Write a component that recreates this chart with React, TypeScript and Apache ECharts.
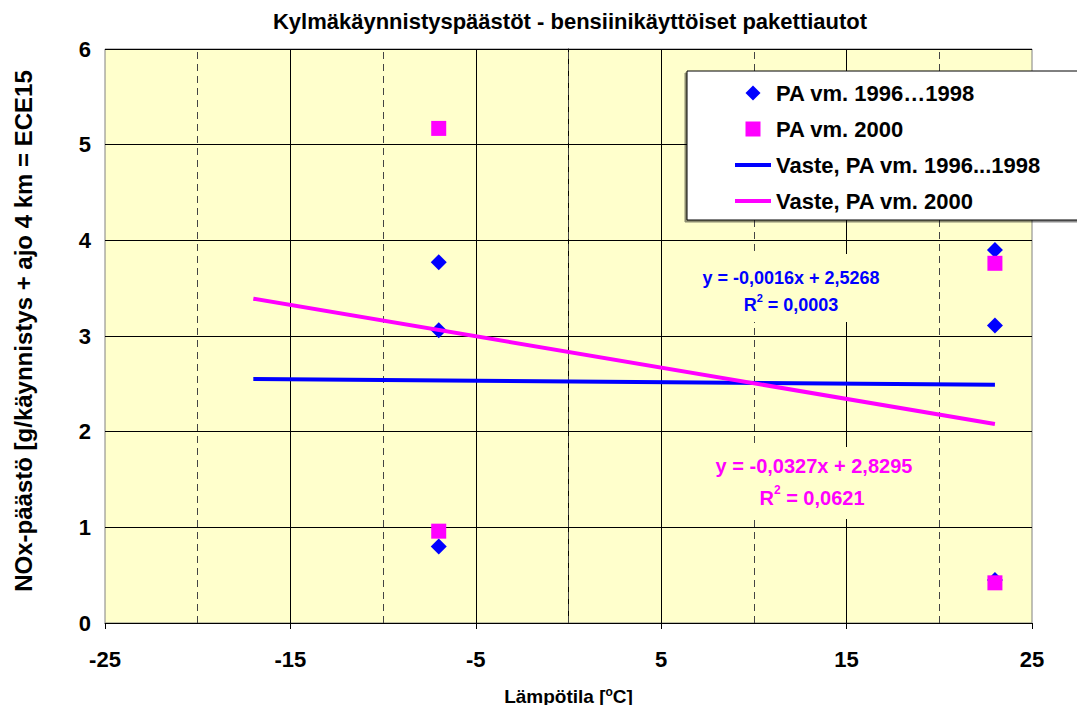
import React, { useEffect, useRef } from "react";
import * as echarts from "echarts";

const titleText = "Kylmäkäynnistyspäästöt - bensiinikäyttöiset pakettiautot";
const xTickValues = [-25, -15, -5, 5, 15, 25];
const solidGridX = [-15, -5, 5, 15];
const dashedGridX = [-20, -10, 0, 10, 20];

const seriesNames = [
  "PA vm. 1996…1998",
  "PA vm. 2000",
  "Vaste, PA vm. 1996...1998",
  "Vaste, PA vm. 2000",
];

const temps9698 = [-7, -7, -7, 23, 23, 23];
const nox9698 = [3.77, 3.06, 0.8, 3.9, 3.11, 0.45];
const temps2000 = [-7, -7, 23, 23];
const nox2000 = [5.17, 0.96, 3.76, 0.42];
const trendTemps = [-17, 23];
const trend9698 = [2.55, 2.49];
const trend2000 = [3.39, 2.08];

const BLUE = "#0000FF";
const MAGENTA = "#FF00FF";
const BG = "#FFFFCC";
const FONT = "'Liberation Sans', Arial, sans-serif";

const DIAMOND = "path://M0,-1L1,0L0,1L-1,0Z";
const SQUARE = "path://M0,0H1V1H0Z";
const LINE_ICON = "path://M0,0H36V4H0Z";

const pairs = (xs: number[], ys: number[]) => xs.map((x, i) => [x, ys[i]]);

export default function App() {
  const ref = useRef<HTMLDivElement>(null);
  useEffect(() => {
    if (!ref.current) return;
    const chart = echarts.init(ref.current, null, { renderer: "svg" });
    const eqText = (
      x: number,
      y: number,
      main: string,
      color: string,
      size: number
    ) => ({
      type: "text",
      x,
      y,
      z: 20,
      style: {
        text: main,
        fill: color,
        font: `bold ${size}px ${FONT}`,
        align: "center",
        verticalAlign: "middle",
      },
    });
    const rText = (x: number, y: number, val: string, color: string, size: number) => ({
      type: "text",
      x,
      y,
      z: 20,
      style: {
        text: `{a|R}{s|2}{a| = ${val}}`,
        align: "center",
        verticalAlign: "middle",
        rich: {
          a: {
            fill: color,
            color,
            fontSize: size,
            fontWeight: "bold",
            fontFamily: FONT,
            lineHeight: size + 4,
            verticalAlign: "bottom",
          },
          s: {
            fill: color,
            color,
            fontSize: Math.round(size * 0.6),
            fontWeight: "bold",
            fontFamily: FONT,
            lineHeight: size + 4,
            verticalAlign: "top",
          },
        },
      },
    });
    chart.setOption({
      animation: false,
      backgroundColor: "#FFFFFF",
      title: {
        text: titleText,
        left: 565,
        top: 5,
        textAlign: "center",
        textStyle: { fontFamily: FONT, fontSize: 22, fontWeight: "bold", color: "#000" },
      },
      grid: {
        left: 105,
        right: 53,
        top: 49,
        bottom: 90,
        show: true,
        backgroundColor: BG,
        borderColor: "#808080",
        borderWidth: 1,
        containLabel: false,
      },
      legend: {
        left: 687,
        top: 71,
        orient: "vertical",
        backgroundColor: "#FFFFFF",
        borderColor: "#000",
        borderWidth: 1,
        shadowColor: "rgba(0,0,0,0.45)",
        shadowBlur: 0,
        shadowOffsetX: -2,
        shadowOffsetY: 2,
        padding: [11, 70, 8, 48],
        itemWidth: 36,
        itemHeight: 15,
        itemGap: 14,
        data: [
          { name: seriesNames[0] },
          { name: seriesNames[1] },
          { name: seriesNames[2], icon: LINE_ICON },
          { name: seriesNames[3], icon: LINE_ICON },
        ],
        textStyle: {
          fontFamily: FONT,
          fontSize: 22,
          fontWeight: "bold",
          color: "#000",
          lineHeight: 22,
        },
        selectedMode: false,
      },
      xAxis: {
        type: "value",
        min: -25,
        max: 25,
        interval: 5,
        name: "Lämpötila [{s|o}C]",
        nameLocation: "middle",
        nameGap: 63,
        nameTextStyle: {
          fontFamily: FONT,
          fontSize: 19,
          fontWeight: "bold",
          color: "#000",
          rich: {
            s: { fontSize: 12, fontWeight: "bold", fontFamily: FONT, color: "#000", verticalAlign: "top", padding: [0, 0, 8, 0] },
          },
        },
        axisLine: { show: true, onZero: false, lineStyle: { color: "#000", width: 1 } },
        axisTick: { show: true, inside: false, length: 6, lineStyle: { color: "#000" }, customValues: xTickValues },
        axisLabel: {
          customValues: xTickValues,
          margin: 25,
          fontFamily: FONT,
          fontSize: 22,
          fontWeight: "bold",
          color: "#000",
        },
        splitLine: { show: false },
      },
      yAxis: {
        type: "value",
        min: 0,
        max: 6,
        interval: 1,
        name: "NOx-päästö [g/käynnistys + ajo 4 km = ECE15",
        nameLocation: "middle",
        nameRotate: 90,
        nameGap: 70,
        nameTextStyle: { fontFamily: FONT, fontSize: 24, fontWeight: "bold", color: "#000", padding: [0, 0, 0, 10] },
        axisLine: { show: true, lineStyle: { color: "#000", width: 1 } },
        axisTick: { show: true, inside: false, length: 6, lineStyle: { color: "#000" } },
        axisLabel: { margin: 14, fontFamily: FONT, fontSize: 22, fontWeight: "bold", color: "#000" },
        splitLine: { show: true, lineStyle: { color: "#000", width: 1 } },
      },
      series: [
        {
          name: seriesNames[0],
          type: "scatter",
          symbol: DIAMOND,
          symbolSize: 16,
          itemStyle: { color: BLUE, opacity: 1 },
          data: pairs(temps9698, nox9698),
          z: 3,
          markLine: {
            silent: true,
            z: 1,
            symbol: ["none", "none"],
            label: { show: false },
            emphasis: { disabled: true },
            data: [
              ...solidGridX.map((v) => ({ xAxis: v, lineStyle: { color: "#000", width: 1, type: "solid" } })),
              ...dashedGridX.map((v) => ({
                xAxis: v,
                lineStyle: { color: "#444", width: 1, type: [7, 5] },
              })),
            ],
          },
        },
        {
          name: seriesNames[1],
          type: "scatter",
          symbol: SQUARE,
          symbolSize: 15,
          itemStyle: { color: MAGENTA, opacity: 1 },
          data: pairs(temps2000, nox2000),
          z: 4,
        },
        {
          name: seriesNames[2],
          type: "line",
          symbol: "none",
          lineStyle: { color: BLUE, width: 4 },
          itemStyle: { color: BLUE },
          data: pairs(trendTemps, trend9698),
          z: 5,
        },
        {
          name: seriesNames[3],
          type: "line",
          symbol: "none",
          lineStyle: { color: MAGENTA, width: 4 },
          itemStyle: { color: MAGENTA },
          data: pairs(trendTemps, trend2000),
          z: 6,
        },
      ],
      graphic: [
        { type: "rect", z: 15, shape: { x: 693, y: 254, width: 198, height: 68 }, style: { fill: BG } },
        { type: "rect", z: 15, shape: { x: 705, y: 447, width: 220, height: 72 }, style: { fill: BG } },
        eqText(791, 278, "y = -0,0016x + 2,5268", BLUE, 18),
        rText(791, 303, "0,0003", BLUE, 18),
        eqText(814, 466, "y = -0,0327x + 2,8295", MAGENTA, 20),
        rText(812, 496, "0,0621", MAGENTA, 20),
      ],
    });
    return () => chart.dispose();
  }, []);
  return <div ref={ref} style={{ width: 1085, height: 713, margin: -8 }} />;
}
